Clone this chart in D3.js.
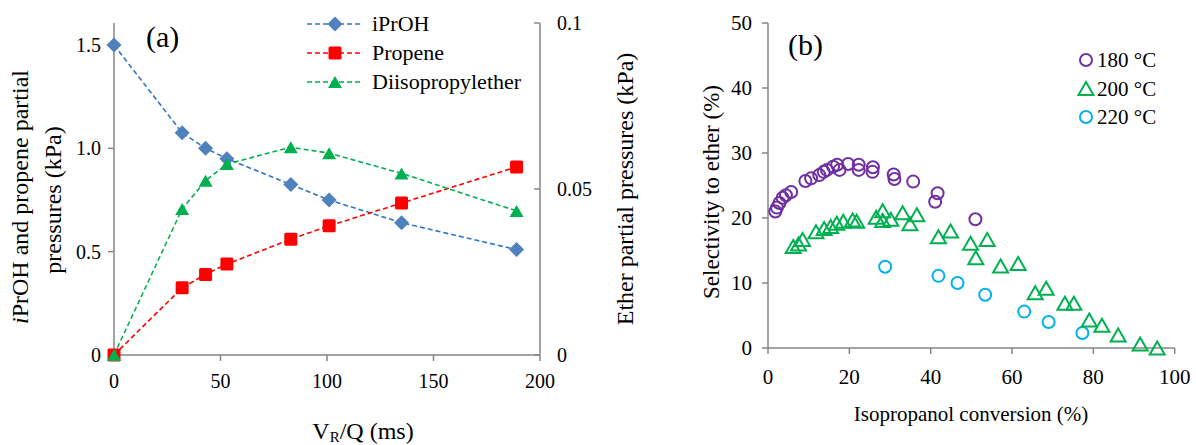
<!DOCTYPE html>
<html><head><meta charset="utf-8">
<script src="https://cdn.jsdelivr.net/npm/d3@7"></script>
<style>
html,body{margin:0;padding:0;background:#fff;}
</style></head><body>
<svg id="c" width="1196" height="445" font-family="Liberation Serif, DejaVu Serif, serif"></svg>
<script>
// ---------- Panel (a) data ----------
const vrq      = [0, 32, 43, 53, 83, 101, 135, 189];
const iproh    = [1.50, 1.075, 1.00, 0.95, 0.825, 0.75, 0.64, 0.51];
const propene  = [0, 0.325, 0.39, 0.44, 0.56, 0.625, 0.735, 0.91];
const ether    = [0, 0.044, 0.0525, 0.0575, 0.0626, 0.0608, 0.0547, 0.0434];
const aXTicks  = [0, 50, 100, 150, 200];
const aYTicks  = [0, 0.5, 1.0, 1.5];
const aYLabels = ["0", "0.5", "1.0", "1.5"];
const aY2Ticks = [0, 0.05, 0.1];
const aY2Labels= ["0", "0.05", "0.1"];
const aLegend  = ["iPrOH", "Propene", "Diisopropylether"];

// ---------- Panel (b) data ----------
const conv180 = [1.8, 2.2, 2.8, 3.6, 4.4, 5.7, 9.2, 10.6, 12.6, 13.7, 14.5, 16.0, 17.0, 17.6, 19.7, 22.3, 22.3, 25.8, 25.7, 30.9, 31.1, 35.7, 41.7, 41.1, 51.0];
const sel180  = [21.0, 21.6, 22.3, 23.1, 23.5, 24.0, 25.7, 26.1, 26.6, 27.1, 27.4, 27.9, 28.2, 27.4, 28.3, 28.2, 27.4, 27.8, 27.1, 26.7, 26.0, 25.6, 23.8, 22.5, 19.8];
const conv200 = [6.2, 7.5, 8.5, 11.8, 13.8, 15.4, 16.9, 18.5, 20.8, 21.8, 26.6, 28.2, 28.2, 30.2, 33.1, 36.6, 34.9, 41.9, 44.9, 49.8, 51.1, 53.9, 57.2, 61.5, 65.7, 68.4, 73.0, 75.2, 79.0, 82.1, 86.1, 91.5, 95.7];
const sel200  = [15.6, 16.0, 16.7, 17.9, 18.4, 18.7, 19.2, 19.5, 19.7, 19.5, 20.1, 21.1, 19.6, 19.8, 20.8, 20.5, 19.1, 17.1, 18.0, 16.1, 13.9, 16.7, 12.6, 13.0, 8.5, 9.2, 6.9, 6.9, 4.3, 3.5, 2.0, 0.6, 0.0];
const conv220 = [28.8, 41.9, 46.6, 53.4, 63.0, 69.0, 77.3];
const sel220  = [12.5, 11.1, 10.0, 8.2, 5.6, 4.0, 2.3];
const bXTicks = [0, 20, 40, 60, 80, 100];
const bYTicks = [0, 10, 20, 30, 40, 50];
const bLegend = ["180 °C", "200 °C", "220 °C"];

const svg = d3.select("#c");
const AX = "#868686";

// ================= Panel (a) =================
const xa  = d3.scaleLinear().domain([0, 200]).range([114, 540]);
const ya  = d3.scaleLinear().domain([0, 1.6]).range([355, 24.3]);
const ya2 = d3.scaleLinear().domain([0, 0.1]).range([355, 23]);

const ga = svg.append("g");
ga.append("line").attr("x1",114).attr("x2",114).attr("y1",355).attr("y2",23).attr("stroke",AX).attr("stroke-width",1.5);
ga.append("line").attr("x1",540).attr("x2",540).attr("y1",355).attr("y2",23).attr("stroke",AX).attr("stroke-width",1.5);
ga.append("line").attr("x1",114).attr("x2",540).attr("y1",355).attr("y2",355).attr("stroke",AX).attr("stroke-width",1.5);
aXTicks.forEach(t=>{
  ga.append("line").attr("x1",xa(t)).attr("x2",xa(t)).attr("y1",355).attr("y2",361).attr("stroke",AX).attr("stroke-width",1.5);
  ga.append("text").attr("x",xa(t)).attr("y",388).attr("text-anchor","middle").attr("font-size",20).text(t);
});
aYTicks.forEach((t,i)=>{
  ga.append("line").attr("x1",108).attr("x2",114).attr("y1",ya(t)).attr("y2",ya(t)).attr("stroke",AX).attr("stroke-width",1.5);
  ga.append("text").attr("x",101).attr("y",ya(t)+7).attr("text-anchor","end").attr("font-size",20).text(aYLabels[i]);
});
aY2Ticks.forEach((t,i)=>{
  ga.append("line").attr("x1",534).attr("x2",540).attr("y1",ya2(t)).attr("y2",ya2(t)).attr("stroke",AX).attr("stroke-width",1.5);
  ga.append("text").attr("x",557).attr("y",ya2(t)+7).attr("text-anchor","start").attr("font-size",20).text(aY2Labels[i]);
});

const diamond = (s)=>`M0,${-s}L${s},0L0,${s}L${-s},0Z`;
const triF = (w,h)=>`M0,${-h/2}L${w/2},${h/2}L${-w/2},${h/2}Z`;

function seriesA(xs, ys, yscale, lineColor, markColor, marker){
  const line = d3.line().x((d,i)=>xa(xs[i])).y(d=>yscale(d));
  ga.append("path").attr("d",line(ys)).attr("fill","none").attr("stroke",lineColor).attr("stroke-width",1.6).attr("stroke-dasharray","5,3");
  ys.forEach((v,i)=>marker(xa(xs[i]), yscale(v), markColor));
}
function mDiamond(x,y,c){ ga.append("path").attr("d",diamond(7.5)).attr("transform",`translate(${x},${y})`).attr("fill",c); }
function mSquare(x,y,c){ ga.append("rect").attr("x",x-6.5).attr("y",y-6.5).attr("width",13).attr("height",13).attr("rx",1.5).attr("fill",c); }
function mTri(x,y,c){ ga.append("path").attr("d",triF(14,12)).attr("transform",`translate(${x},${y})`).attr("fill",c); }

seriesA(vrq, iproh, ya, "#2E75C6", "#4F81BD", mDiamond);
seriesA(vrq, propene, ya, "#FF0000", "#FF0000", mSquare);
seriesA(vrq, ether, ya2, "#00B050", "#00B050", mTri);

const legCols = [["#2E75C6","#4F81BD",mDiamond],["#FF0000","#FF0000",mSquare],["#00B050","#00B050",mTri]];
aLegend.forEach((name,i)=>{
  const y = 24 + i*29;
  ga.append("line").attr("x1",307).attr("x2",360).attr("y1",y).attr("y2",y).attr("stroke",legCols[i][0]).attr("stroke-width",1.6).attr("stroke-dasharray","5,3");
  legCols[i][2](335, y, legCols[i][1]);
  ga.append("text").attr("x",372).attr("y",y+7).attr("font-size",22).text(name);
});
ga.append("text").attr("x",146).attr("y",47).attr("font-size",30).text("(a)");

const t1 = ga.append("text").attr("transform","translate(28,197) rotate(-90)").attr("text-anchor","middle").attr("font-size",24);
t1.append("tspan").attr("font-style","italic").text("i");
t1.append("tspan").text("PrOH and propene partial");
ga.append("text").attr("transform","translate(61,200) rotate(-90)").attr("text-anchor","middle").attr("font-size",24).text("pressures (kPa)");
ga.append("text").attr("transform","translate(633,189) rotate(-90)").attr("text-anchor","middle").attr("font-size",24).text("Ether partial pressures (kPa)");
const xt = ga.append("text").attr("x",363).attr("y",439).attr("text-anchor","middle").attr("font-size",24);
xt.append("tspan").text("V");
xt.append("tspan").attr("font-size",15).attr("dy",3).text("R");
xt.append("tspan").attr("dy",-3).text("/Q (ms)");

// ================= Panel (b) =================
const xb = d3.scaleLinear().domain([0, 100]).range([768, 1174.7]);
const yb = d3.scaleLinear().domain([0, 50]).range([348, 23]);
const gb = svg.append("g");
gb.append("line").attr("x1",768).attr("x2",768).attr("y1",348).attr("y2",23).attr("stroke",AX).attr("stroke-width",1.5);
gb.append("line").attr("x1",768).attr("x2",1174.7).attr("y1",348).attr("y2",348).attr("stroke",AX).attr("stroke-width",1.5);
bXTicks.forEach(t=>{
  gb.append("line").attr("x1",xb(t)).attr("x2",xb(t)).attr("y1",348).attr("y2",354).attr("stroke",AX).attr("stroke-width",1.5);
  gb.append("text").attr("x",xb(t)).attr("y",384).attr("text-anchor","middle").attr("font-size",21).text(t);
});
bYTicks.forEach(t=>{
  gb.append("line").attr("x1",762).attr("x2",768).attr("y1",yb(t)).attr("y2",yb(t)).attr("stroke",AX).attr("stroke-width",1.5);
  gb.append("text").attr("x",752).attr("y",yb(t)+7).attr("text-anchor","end").attr("font-size",21).text(t);
});
const triO = (w,h)=>`M0,${-h/2}L${w/2},${h/2}L${-w/2},${h/2}Z`;
function circ(x,y,c){ gb.append("circle").attr("cx",x).attr("cy",y).attr("r",6).attr("fill","none").attr("stroke",c).attr("stroke-width",2); }
function triB(x,y,c){ gb.append("path").attr("d",triO(15,13)).attr("transform",`translate(${x},${y})`).attr("fill","none").attr("stroke",c).attr("stroke-width",2).attr("stroke-linejoin","miter"); }
conv220.forEach((v,i)=>circ(xb(v), yb(sel220[i]), "#00B0F0"));
conv200.forEach((v,i)=>triB(xb(v), yb(sel200[i]), "#00B050"));
conv180.forEach((v,i)=>circ(xb(v), yb(sel180[i]), "#7030A0"));

const bCols = ["#7030A0","#00B050","#00B0F0"];
bLegend.forEach((name,i)=>{
  const y = 60 + i*28.5;
  if(i===1) triB(1086, y, bCols[i]); else circ(1086, y, bCols[i]);
  gb.append("text").attr("x",1097).attr("y",y+7).attr("font-size",21).text(name);
});
gb.append("text").attr("x",788).attr("y",55).attr("font-size",30).text("(b)");
gb.append("text").attr("transform","translate(719,192) rotate(-90)").attr("text-anchor","middle").attr("font-size",23).text("Selectivity to ether (%)");
gb.append("text").attr("x",971).attr("y",421).attr("text-anchor","middle").attr("font-size",21).text("Isopropanol conversion (%)");
</script>
</body></html>
